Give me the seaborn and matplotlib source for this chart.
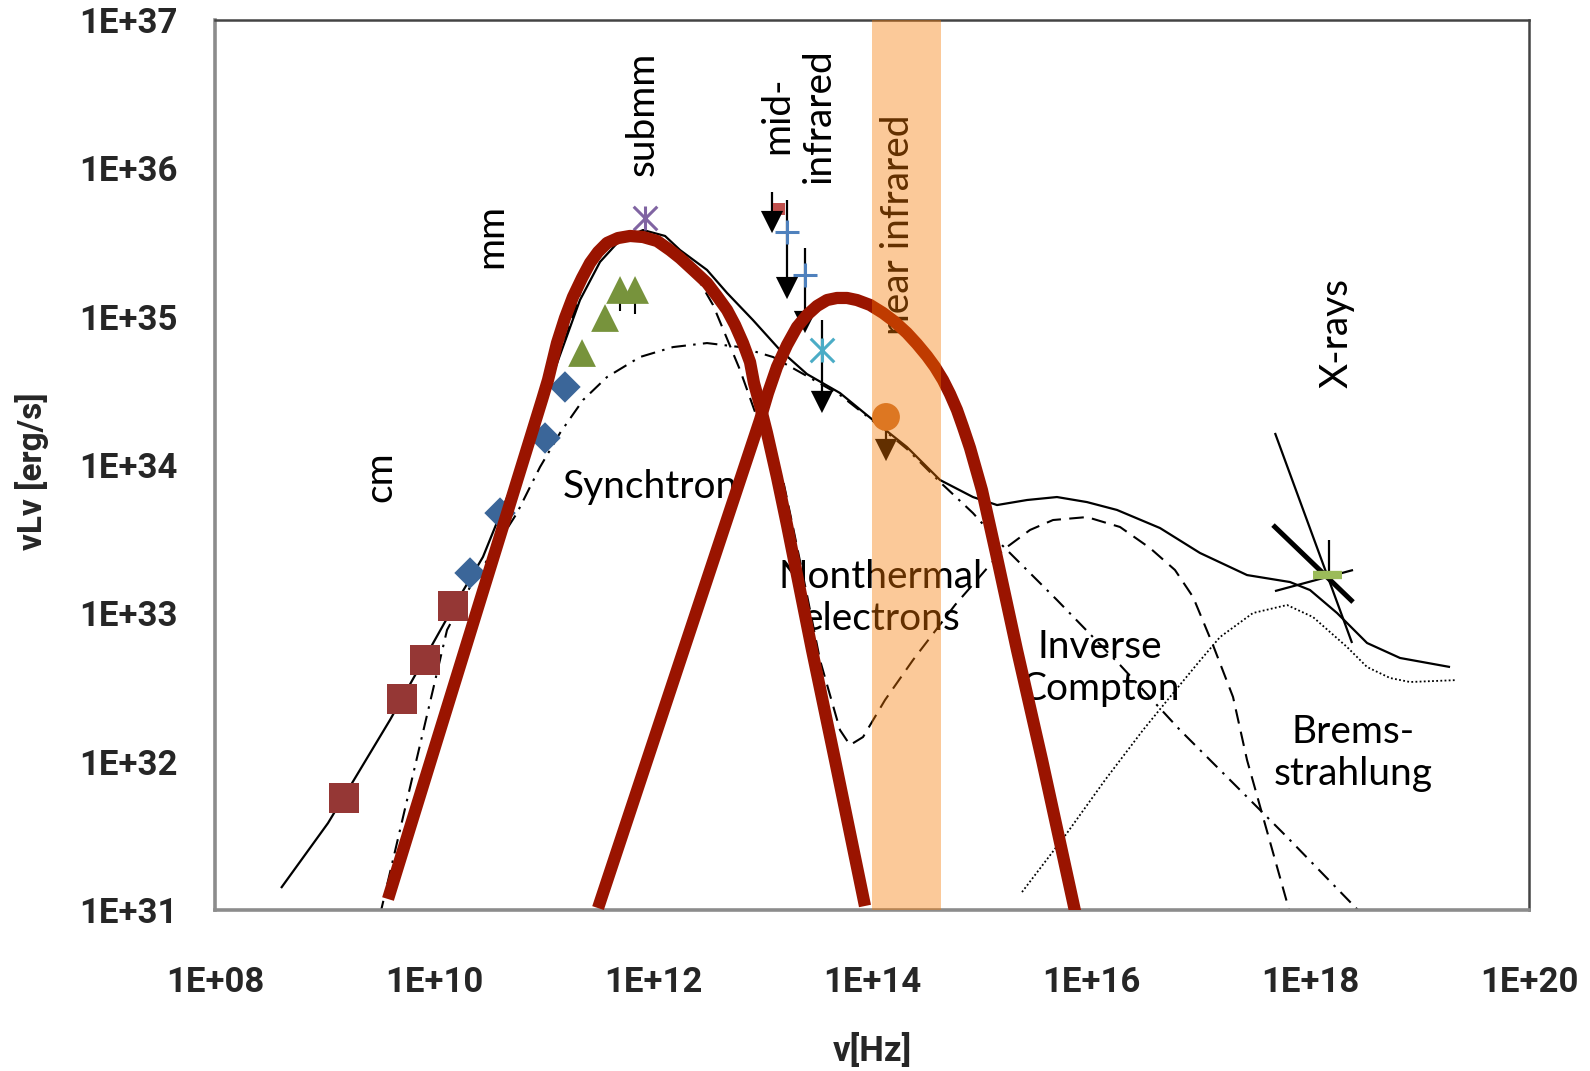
import numpy as np
import pandas as pd
import matplotlib
matplotlib.use("Agg")
import matplotlib.pyplot as plt
import seaborn as sns
from matplotlib.ticker import FixedLocator, FuncFormatter, NullFormatter

# ---------------- data (log10 nu [Hz], log10 nuLnu [erg/s]) ----------------
total_lognu = [8.603, 9.032, 9.598, 10.146, 10.447, 10.758, 10.968, 11.151, 11.333, 11.516,
               11.699, 11.909, 12.110, 12.247, 12.493, 12.676, 12.913, 13.160, 13.406, 13.708,
               14.009, 14.319, 14.621, 14.922, 15.142, 15.416, 15.689, 15.963, 16.237, 16.630,
               16.995, 17.425, 17.817, 18.000, 18.247, 18.521, 18.822, 19.279]
total_logL = [31.148, 31.586, 32.281, 33.002, 33.380, 33.946, 34.371, 34.742, 35.112, 35.369,
              35.517, 35.584, 35.544, 35.449, 35.315, 35.160, 34.977, 34.775, 34.613, 34.485,
              34.303, 34.121, 33.899, 33.784, 33.730, 33.764, 33.784, 33.750, 33.697, 33.575,
              33.407, 33.258, 33.211, 33.157, 33.002, 32.800, 32.699, 32.638]

thermal_lognu = [9.507, 10.119, 10.329, 10.758, 10.968, 11.151, 11.361, 11.580, 11.881, 12.183,
                 12.493, 12.795, 13.096, 13.388, 13.708, 14.009, 14.319, 14.621, 14.922, 15.168,
                 15.689, 16.265, 16.813, 17.425, 17.790, 18.490]
thermal_logL = [30.966, 32.888, 33.177, 33.676, 33.986, 34.216, 34.438, 34.593, 34.728, 34.795,
                34.822, 34.795, 34.728, 34.607, 34.472, 34.297, 34.108, 33.885, 33.676, 33.474,
                33.090, 32.652, 32.213, 31.762, 31.492, 30.960]

nonth_lognu = [11.196, 11.425, 11.653, 11.881, 12.110, 12.338, 12.548, 12.795, 13.023, 13.187,
               13.278, 13.406, 13.525, 13.708, 13.799, 13.918, 14.119, 14.374, 14.758, 15.196,
               15.443, 15.653, 15.963, 16.265, 16.539, 16.767, 16.932, 17.114, 17.297, 17.425,
               17.571, 17.817]
nonth_logL = [34.843, 35.362, 35.497, 35.544, 35.483, 35.348, 35.079, 34.640, 34.169, 33.899,
              33.582, 33.124, 32.685, 32.213, 32.112, 32.166, 32.416, 32.685, 33.056, 33.427,
              33.562, 33.629, 33.649, 33.582, 33.440, 33.292, 33.110, 32.786, 32.436, 32.011,
              31.627, 30.980]

brems_lognu = [15.370, 15.781, 16.128, 16.475, 16.721, 16.977, 17.178, 17.479, 17.790, 18.027,
               18.338, 18.521, 18.731, 18.913, 19.342]
brems_logL = [31.121, 31.519, 31.876, 32.213, 32.436, 32.665, 32.840, 33.002, 33.056, 32.975,
              32.773, 32.638, 32.564, 32.537, 32.550]

red1_lognu = [9.580, 10.986, 11.041, 11.123, 11.196, 11.269, 11.352, 11.425, 11.498, 11.580,
              11.680, 11.790, 11.909, 12.037, 12.155, 12.247, 12.365, 12.493, 12.584, 12.676,
              12.749, 12.822, 12.886, 12.922, 12.977, 13.041, 13.132, 13.224, 13.452, 13.662,
              13.936]
red1_logL = [31.074, 34.438, 34.573, 34.822, 34.991, 35.133, 35.261, 35.362, 35.436, 35.497,
             35.530, 35.544, 35.537, 35.510, 35.449, 35.395, 35.315, 35.227, 35.139, 35.045,
             34.944, 34.822, 34.694, 34.553, 34.404, 34.216, 33.919, 33.595, 32.753, 32.011,
             31.027]

red2_lognu = [11.498, 12.977, 13.050, 13.132, 13.224, 13.315, 13.406, 13.498, 13.589, 13.680,
              13.772, 13.863, 13.982, 14.100, 14.210, 14.319, 14.411, 14.502, 14.575, 14.648,
              14.712, 14.776, 14.831, 14.895, 15.004, 15.132, 15.324, 15.553, 15.872]
red2_logL = [31.013, 34.303, 34.485, 34.661, 34.809, 34.930, 35.011, 35.072, 35.112, 35.126,
             35.126, 35.112, 35.079, 35.025, 34.964, 34.890, 34.816, 34.735, 34.661, 34.573,
             34.479, 34.371, 34.256, 34.115, 33.831, 33.407, 32.753, 32.011, 30.932]

cm_lognu = [9.178, 9.708, 9.918, 10.173]
cm_logL = [31.755, 32.422, 32.685, 33.049]
mm_lognu = [10.329, 10.603, 11.014, 11.196]
mm_logL = [33.272, 33.676, 34.182, 34.526]
sub_lognu = [11.352, 11.562, 11.699, 11.836]
sub_logL = [34.755, 34.991, 35.180, 35.180]
sub_err_lo = [0.0, 0.0, 0.14, 0.16]
star_lognu = [11.927]
star_logL = [35.665]

# upper limits: x, top of line, arrow head
ul_lognu = [13.087, 13.224, 13.388, 13.543, 14.128]
ul_top = [35.840, 35.787, 35.463, 34.978, 34.324]
ul_tip = [35.638, 35.193, 34.964, 34.425, 34.101]
ul_red_sq = (13.151, 35.726)
plus_lognu = [13.224, 13.388]
plus_logL = [35.571, 35.281]
teal_lognu = [13.543]
teal_logL = [34.775]
nir_lognu = [14.128]
nir_logL = [34.324]

# X-ray bowtie
xr_thin1 = ([17.680, 18.384], [34.216, 32.800])
xr_thick = ([17.662, 18.393], [33.595, 33.076])
xr_thin2 = ([17.680, 18.393], [33.150, 33.292])
xr_vert = ([18.174, 18.174], [33.494, 33.258])
xr_bar = ([18.027, 18.292], [33.258, 33.258])

band_lo, band_hi = 1.0e14, 4.3e14

x_decades = list(range(8, 21))
y_decades = list(range(31, 38))

# ---------------- style ----------------
sns.set_style("white")
plt.rcParams['font.family'] = ['Roboto', 'DejaVu Sans']
plt.rcParams['font.weight'] = 'bold'
ANN = ['Lato', 'DejaVu Sans']

fig = plt.figure(figsize=(15.9, 10.71), dpi=100)
ax = fig.add_axes([0.13522, 0.15033, 0.82642, 0.83100])
ax.set_xscale('log')
ax.set_yscale('log')


def p10(a):
    return 10.0 ** np.asarray(a, dtype=float)


def line(lx, ly, color='black', lw=1.5, dashes=None, z=2, cap='butt'):
    df = pd.DataFrame({'x': p10(lx), 'y': p10(ly)})
    sns.lineplot(data=df, x='x', y='y', sort=False, estimator=None, ax=ax,
                 color=color, linewidth=lw, zorder=z)
    ln = ax.lines[-1]
    ln.set_solid_capstyle(cap)
    ln.set_solid_joinstyle('round')
    if dashes is not None:
        ln.set_dashes(dashes)
    return ln


def pts(lx, ly, marker, size, color, z=4, lw=0, ec='none'):
    df = pd.DataFrame({'x': p10(lx), 'y': p10(ly)})
    sns.scatterplot(data=df, x='x', y='y', marker=marker, s=size ** 2, color=color,
                    edgecolor=ec, linewidth=lw, ax=ax, zorder=z)


# model curves
line(total_lognu, total_logL, lw=1.6)
line(thermal_lognu, thermal_logL, lw=1.5, dashes=(7, 3.5, 1.2, 3.5))
line(nonth_lognu, nonth_logL, lw=1.5, dashes=(7, 4))
line(brems_lognu, brems_logL, lw=1.3, dashes=(1.0, 1.3))

# x-ray bowtie
line(*xr_thin1, lw=1.6, z=3)
line(*xr_thick, lw=3.6, z=3)
line(*xr_thin2, lw=1.6, z=3)
line(*xr_vert, lw=1.6, z=3)
line(*xr_bar, color='#9BBB59', lw=6, z=4)

# data points
pts(cm_lognu, cm_logL, 's', 21, '#953735')
pts(mm_lognu, mm_logL, 'D', 16, '#3B6699')
sub_x = p10(sub_lognu)
sub_y = p10(sub_logL)
ax.errorbar(sub_x, sub_y, yerr=[sub_y - p10(np.array(sub_logL) - np.array(sub_err_lo)), np.zeros(4)],
            fmt='none', ecolor='black', elinewidth=1.5, zorder=3)
pts(sub_lognu, sub_logL, '^', 20, '#77933C')
pts(star_lognu, star_logL, 'x', 17, '#8064A2', lw=2.2, ec='#8064A2')
pts(star_lognu, star_logL, '|', 17, '#8064A2', lw=2.2, ec='#8064A2')

# upper limits
for x, t, b in zip(ul_lognu, ul_top, ul_tip):
    ax.vlines(10 ** x, 10 ** b, 10 ** t, color='black', lw=1.6, zorder=3)
pts([ul_red_sq[0]], [ul_red_sq[1]], 's', 9, '#C0504D', z=3)
pts(ul_lognu, ul_tip, 'v', 16, 'black', z=4)
pts(plus_lognu, plus_logL, '+', 17, '#4F81BD', lw=2.2, ec='#4F81BD')
pts(teal_lognu, teal_logL, 'x', 17, '#4BACC6', lw=2.2, ec='#4BACC6')
pts(teal_lognu, teal_logL, '|', 17, '#4BACC6', lw=2.2, ec='#4BACC6')

# red thick curves
line(red1_lognu, red1_logL, color='#9A1400', lw=8.8, z=6)
line(red2_lognu, red2_logL, color='#9A1400', lw=8.8, z=6)

# near infrared band (translucent, on top)
ax.axvspan(band_lo, band_hi, color='#F77800', alpha=0.4, lw=0, zorder=7)
pts(nir_lognu, nir_logL, 'o', 20, '#DD7722', z=8)

# ---------------- axes ----------------
ax.set_xlim(1e8, 1e20)
ax.set_ylim(1e31, 1e37)
xmaj = [10.0 ** e for e in x_decades]
ymaj = [10.0 ** e for e in y_decades]
xmin = [m * 10.0 ** e for e in x_decades[:-1] for m in range(2, 10)]
ymin = [m * 10.0 ** e for e in y_decades[:-1] for m in range(2, 10)]
ax.xaxis.set_major_locator(FixedLocator(xmaj))
ax.yaxis.set_major_locator(FixedLocator(ymaj))
ax.xaxis.set_minor_locator(FixedLocator(xmin))
ax.yaxis.set_minor_locator(FixedLocator(ymin))
ax.xaxis.set_minor_formatter(NullFormatter())
ax.yaxis.set_minor_formatter(NullFormatter())


def fmt_x(v, p):
    e = int(round(np.log10(v)))
    return f"1E+{e:02d}" if e % 2 == 0 else ""


def fmt_y(v, p):
    e = int(round(np.log10(v)))
    return f"1E+{e:02d}"


ax.xaxis.set_major_formatter(FuncFormatter(fmt_x))
ax.yaxis.set_major_formatter(FuncFormatter(fmt_y))
ax.tick_params(which='both', direction='in', top=False, right=False, color='#8C8C8C', width=1.3,
               labelsize=25)
ax.tick_params(which='major', length=9)
ax.tick_params(which='minor', length=6)
ax.tick_params(axis='x', which='major', pad=40)
ax.tick_params(axis='y', which='major', pad=27)

for s in ['left', 'bottom']:
    ax.spines[s].set_color('#8C8C8C')
    ax.spines[s].set_linewidth(2.6)
for s in ['top', 'right']:
    ax.spines[s].set_color('#444444')
    ax.spines[s].set_linewidth(1.8)
    ax.spines[s].set_visible(True)

ax.set_xlabel('v[Hz]', fontsize=25, fontweight='bold')
ax.set_ylabel('vLv [erg/s]', fontsize=24, fontweight='bold')
ax.xaxis.set_label_coords(0.5, -0.158)
ax.yaxis.set_label_coords(-0.139, 0.493)
ax.xaxis.label.set_va('center')
ax.yaxis.label.set_va('center')

# ---------------- annotations ----------------
kw = dict(transform=ax.transAxes, fontsize=28, family=ANN, weight='normal', color='black', zorder=5)
ax.text(0.1256, 0.4865, 'cm', rotation=90, ha='center', va='center', **kw)
ax.text(0.2100, 0.7573, 'mm', rotation=90, ha='center', va='center', **kw)
ax.text(0.3257, 0.8944, 'submm', rotation=90, ha='center', va='center', **kw)
ax.text(0.4437, 0.8930, 'mid-\ninfrared', rotation=90, ha='center', va='center',
        multialignment='center', **kw)
ax.text(0.5198, 0.7700, 'near infrared', rotation=90, ha='center', va='center', **kw)
ax.text(0.8539, 0.6483, 'X-rays', rotation=90, ha='center', va='center', **kw)
ax.text(0.2648, 0.4753, 'Synchtron', ha='left', va='center', **kw)
ax.text(0.5068, 0.3506, 'Nonthermal\nelectrons', ha='center', va='center',
        multialignment='center', **kw)
ax.text(0.6735, 0.2719, 'Inverse\nCompton', ha='center', va='center', multialignment='center', **kw)
ax.text(0.8661, 0.1764, 'Brems-\nstrahlung', ha='center', va='center', multialignment='center', **kw)

fig.savefig('out.png', dpi=100)
